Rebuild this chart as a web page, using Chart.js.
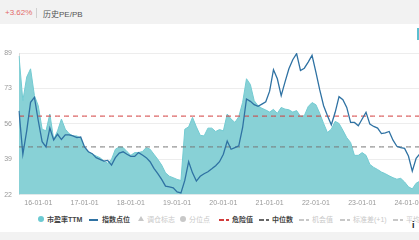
<!DOCTYPE html>
<html>
<head>
<meta charset="utf-8">
<script src="https://cdn.jsdelivr.net/npm/chart.js@4.4.1/dist/chart.umd.min.js"></script>
<style>
  body { margin: 0; width: 419px; height: 240px; overflow: hidden; background: #fff; position: relative;
         font-family: "Liberation Sans", "Noto Sans CJK SC", sans-serif; }
  .topbar { position: absolute; left: 0; top: 0; width: 419px; height: 24px; background: #f2f2f2; }
  .topbar .pct { position: absolute; left: 5px; top: 8px; font-size: 8px; color: #e36a6a; }
  .topbar .sep { position: absolute; left: 36px; top: 8px; width: 1px; height: 10px; background: #d0d0d0; }
  .topbar .title { position: absolute; left: 43px; top: 8px; font-size: 8px; color: #555; }
  #chart { position: absolute; left: 0; top: 24px; }
  .legend { position: absolute; left: 0; top: 214px; width: 419px; height: 12px; font-size: 7px; white-space: nowrap; }
  .legend span { position: absolute; top: 1px; line-height: 9px; }
  .on { color: #444; font-weight: bold; }
  .off { color: #c8c8c8; }
  .mk { position: absolute; }
  .bottombar { position: absolute; left: 0; top: 232px; width: 419px; height: 8px; background: #f2f2f2; }
  .edge { position: absolute; left: 417px; top: 28px; width: 2px; height: 12px; background: #5bbfd0; }
  .info { position: absolute; left: 412px; top: 220px; font-size: 9px; font-weight: bold; color: #222; }
</style>
</head>
<body>
<div class="topbar">
  <span class="pct">+3.62%</span>
  <span class="sep"></span>
  <span class="title">历史PE/PB</span>
</div>
<canvas id="chart" width="424" height="190"></canvas>
<div class="edge"></div>
<div class="legend" id="legend"></div>
<div class="info">i</div>
<div class="bottombar"></div>

<script>
// 月度数据，从 2015-08 到 2024-04
const startYear = 2015
const startMonth = 8

// 市盈率TTM
const peValues = [
  88, 66.8, 78, 81.9, 69.2, 64.4, 53.3, 52.5, 60.5, 48.5,
  52.5, 58.1, 53.3, 51.2, 50.1, 50.1, 49.0, 44.2, 42.6, 41.5,
  40.6, 39.8, 38.2, 37.2, 39.0, 43.8, 44.9, 44.6, 42.7, 40.9,
  42.2, 42.2, 42.7, 44.6, 43.8, 41.4, 39.0, 36.3, 32.6, 31.0,
  30.3, 29.5, 29.0, 53.3, 54.4, 58.9, 54.4, 50.4, 50.1, 53.8,
  53.8, 52.2, 53.1, 52.5, 60.5, 58.1, 56.5, 59.2, 66.0, 77.2,
  74.5, 66.8, 64.4, 63.2, 62.4, 61.4, 62.7, 60.8, 63.6, 62.8,
  62.5, 61.4, 62.1, 59.4, 59.7, 64.0, 65.9, 64.9, 60.8, 56.0,
  51.7, 53.3, 57.0, 56.0, 52.8, 49.3, 47.0, 40.9, 40.9, 42.2,
  40.9, 36.6, 35.2, 34.2, 33.0, 32.2, 31.2, 30.3, 29.6, 30.0,
  28.3, 26.0, 25.0, 27.7, 28.7
]

// 指数点位
const indexValues = [
  6200, 4140, 5250, 6600, 6840, 5730, 4740, 4490, 5380, 4820,
  5090, 4840, 5060, 5060, 5010, 4930, 4960, 4490, 4260, 4170,
  3980, 3900, 3820, 3850, 3630, 3980, 4200, 4260, 4140, 4040,
  4040, 4220, 4110, 3980, 3790, 3470, 3220, 2950, 2630, 2600,
  2550, 2360, 2310, 2900, 3790, 3260, 2870, 3100, 3220, 3310,
  3450, 3600, 3790, 4140, 4770, 4380, 4460, 4540, 5410, 6760,
  6650, 6490, 6410, 6520, 6630, 7130, 8150, 7720, 6920, 7570,
  8190, 8620, 8910, 8110, 8220, 8510, 8830, 8030, 7190, 6440,
  5970, 5540, 6130, 6870, 6730, 6360, 5650, 5650, 5490, 5810,
  6130, 5570, 5460, 5380, 5120, 5160, 5220, 4810, 4520, 4460,
  4420, 4060, 3340, 3950, 4170
]

const dangerValue = 59.5   // 危险值
const medianValue = 44.9   // 中位数

const yTickValues = [22.3, 39.08, 55.85, 72.63, 89.4]
const yTickLabels = ["22", "39", "56", "73", "89"]

const legendItems = [
  { text: "市盈率TTM", x: 38, marker: "dot", color: "#6ccad2", on: true },
  { text: "指数点位", x: 89, marker: "line", color: "#2f72a3", on: true },
  { text: "调仓标志", x: 138, marker: "tri", color: "#c8c8c8", on: false },
  { text: "分位点", x: 180, marker: "dot", color: "#c8c8c8", on: false },
  { text: "危险值", x: 219, marker: "dash", color: "#d23c3c", on: true },
  { text: "中位数", x: 259, marker: "dash", color: "#666", on: true },
  { text: "机会值", x: 299, marker: "dash", color: "#c8c8c8", on: false },
  { text: "标准差(+1)", x: 340, marker: "dash", color: "#c8c8c8", on: false },
  { text: "平均值", x: 393, marker: "dash", color: "#c8c8c8", on: false },
]

// 生成月份标签
const labels = []
for (let i = 0; i < peValues.length; i++) {
  const m = startMonth - 1 + i
  const y = startYear + Math.floor(m / 12)
  const mm = String((m % 12) + 1).padStart(2, "0")
  labels.push(`${y}-${mm}`)
}

const ctx = document.getElementById("chart")
new Chart(ctx, {
  type: "line",
  data: {
    labels: labels,
    datasets: [
      {
        label: "指数点位",
        data: indexValues,
        yAxisID: "y1",
        borderColor: "#2f72a3",
        borderWidth: 1.3,
        pointRadius: 0,
        fill: false,
        order: 0,
      },
      {
        label: "危险值",
        data: labels.map(() => dangerValue),
        borderColor: "#d23c3c",
        borderWidth: 1,
        borderDash: [5, 4],
        pointRadius: 0,
        fill: false,
        order: 1,
      },
      {
        label: "中位数",
        data: labels.map(() => medianValue),
        borderColor: "#777",
        borderWidth: 1,
        borderDash: [5, 4],
        pointRadius: 0,
        fill: false,
        order: 2,
      },
      {
        label: "市盈率TTM",
        data: peValues,
        borderColor: "#74cbd2",
        backgroundColor: "#88d1d6",
        borderWidth: 1,
        pointRadius: 0,
        fill: "start",
        order: 3,
      },
    ],
  },
  options: {
    responsive: false,
    animation: false,
    devicePixelRatio: 1,
    layout: { padding: { top: 29, bottom: 3, left: 0, right: 0 } },
    plugins: { legend: { display: false }, tooltip: { enabled: false } },
    scales: {
      x: {
        grid: { display: false, drawTicks: false },
        border: { display: false },
        ticks: {
          autoSkip: false,
          maxRotation: 0,
          padding: 4,
          color: "#999",
          font: { size: 7, family: "Liberation Sans" },
          callback: function (value) {
            const lab = labels[value]
            if (lab.endsWith("-01")) return lab.slice(2, 4) + "-01-01"
            return ""
          },
        },
      },
      y: {
        min: 22.3,
        max: 89.4,
        afterBuildTicks: (scale) => {
          scale.ticks = yTickValues.map((v) => ({ value: v }))
        },
        afterFit: (scale) => {
          scale.width = 19
        },
        grid: { color: "#ededed", drawTicks: false },
        border: { display: true, color: "#dcdcdc" },
        ticks: {
          padding: 7,
          color: "#999",
          font: { size: 7, family: "Liberation Sans" },
          callback: function (value, i) {
            return yTickLabels[i]
          },
        },
      },
      y1: {
        display: false,
        min: 2230,
        max: 8940,
      },
    },
  },
})

// 图例
const legend = document.getElementById("legend")
legendItems.forEach((item) => {
  const mk = document.createElement("span")
  mk.className = "mk"
  if (item.marker === "dot") {
    mk.style.cssText = `left:${item.x}px;top:2px;width:6px;height:6px;border-radius:50%;background:${item.color}`
  } else if (item.marker === "line") {
    mk.style.cssText = `left:${item.x}px;top:5px;width:9px;height:1.5px;background:${item.color}`
  } else if (item.marker === "tri") {
    mk.style.cssText = `left:${item.x}px;top:2px;width:0;height:0;border-left:3px solid transparent;border-right:3px solid transparent;border-bottom:5px solid ${item.color}`
  } else {
    mk.style.cssText = `left:${item.x}px;top:5px;width:10px;height:1.5px;background:repeating-linear-gradient(90deg, ${item.color} 0 5px, transparent 5px 7px)`
  }
  legend.appendChild(mk)
  const tx = document.createElement("span")
  tx.className = item.on ? "on" : "off"
  tx.style.left = item.x + (item.marker === "dot" || item.marker === "tri" ? 9 : 13) + "px"
  tx.textContent = item.text
  legend.appendChild(tx)
})
</script>
</body>
</html>
